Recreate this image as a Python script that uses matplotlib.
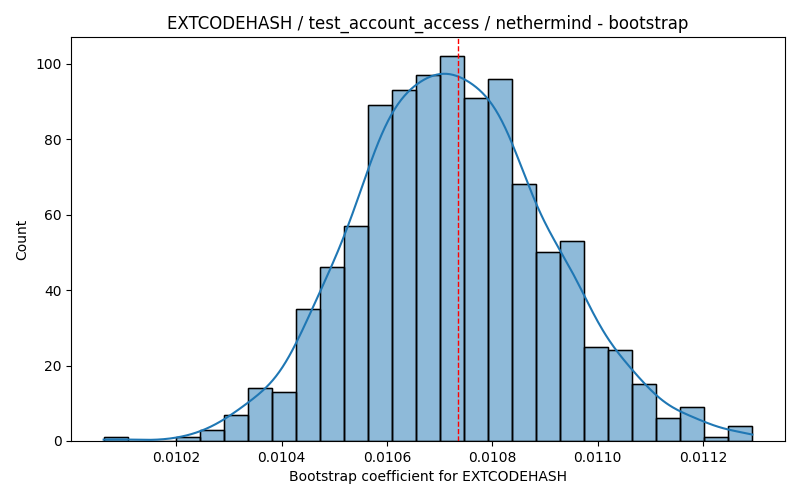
import numpy as np
import matplotlib
matplotlib.use("Agg")
import matplotlib.pyplot as plt

counts = [1, 0, 0, 1, 3, 7, 14, 13, 35, 46, 57, 89, 93, 97, 102, 91, 96, 68,
          50, 53, 25, 24, 15, 6, 9, 1, 4]
data_min = 0.010062
data_max = 0.011294
mean_value = 0.010735

w = np.array(counts, dtype=float)
edges = np.linspace(data_min, data_max, len(counts) + 1)
centers = (edges[:-1] + edges[1:]) / 2
binw = edges[1] - edges[0]

fig, ax = plt.subplots(figsize=(8, 5), dpi=100)
fig.subplots_adjust(left=0.089, right=0.981, top=0.926, bottom=0.118)

ax.bar(edges[:-1], w, width=binw, align="edge", color="#1f77b4", alpha=0.5,
       edgecolor="black", linewidth=1)
ax.bar(edges[:-1], w, width=binw, align="edge", fill=False,
       edgecolor="black", linewidth=1)

# gaussian KDE (Scott's rule with the sample size of the bootstrap)
n = w.sum()
mu = np.sum(w * centers) / n
sd = np.sqrt(np.sum(w * (centers - mu) ** 2) / n)
bw = sd * n ** (-1 / 5)
grid = np.linspace(edges[0], edges[-1], 400)
dens = np.sum(w[None, :] * np.exp(-0.5 * ((grid[:, None] - centers[None, :]) / bw) ** 2),
              axis=1) / (n * bw * np.sqrt(2 * np.pi))
ax.plot(grid, dens * n * binw, color="#1f77b4", linewidth=1.5)

span = edges[-1] - edges[0]
ax.set_xlim(edges[0] - 0.05 * span, edges[-1] + 0.05 * span)
ax.set_ylim(0, w.max() * 1.05)
ax.axvline(mean_value, color="red", linestyle="--", linewidth=1)
ax.set_title("EXTCODEHASH / test_account_access / nethermind - bootstrap")
ax.set_xlabel("Bootstrap coefficient for EXTCODEHASH")
ax.set_ylabel("Count")

fig.savefig("out.png", dpi=100)
